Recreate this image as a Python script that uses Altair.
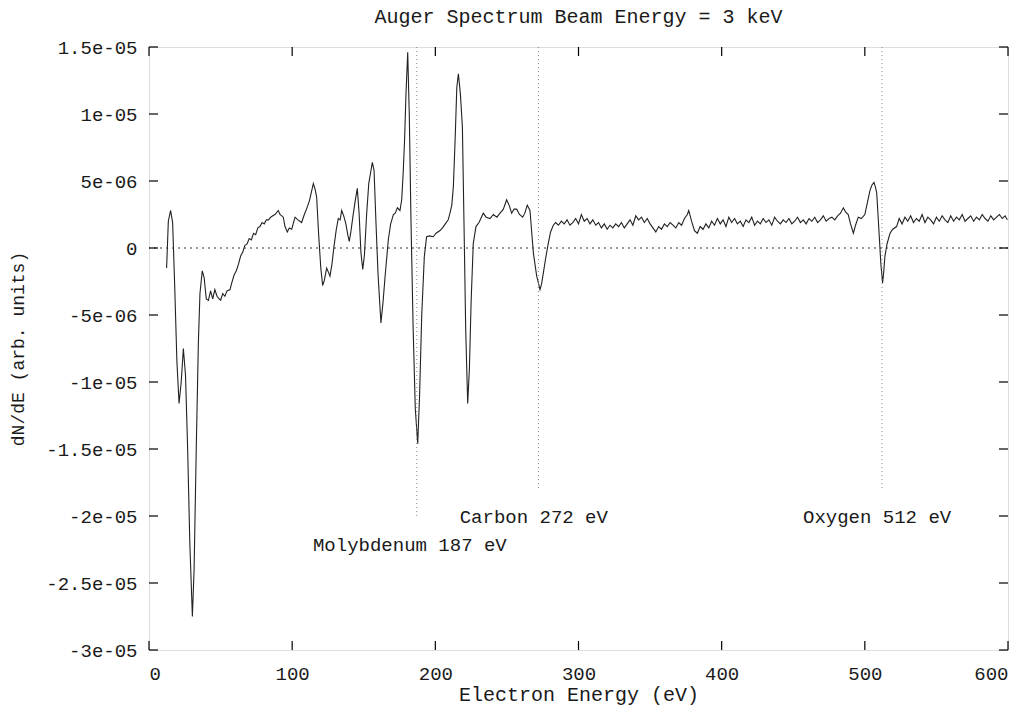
import altair as alt
import pandas as pd

# ---------------- data ----------------
energy = [
    12.3, 13.5, 15.1, 16.5, 18.0, 19.5, 21.0, 22.5, 24.0, 25.5, 27.0, 28.5, 30.3, 31.5, 33.0, 34.5,
    35.6, 37.2, 38.5, 40.0, 41.5, 43.0, 44.5, 46.0, 47.5, 49.0, 50.0, 51.5, 53.0, 54.5, 56.6, 57.8,
    59.5, 61.0, 62.5, 64.0, 65.5, 67.0, 68.5, 70.0, 71.5, 73.0, 74.5, 76.0, 77.5, 79.0, 80.5, 82.0,
    83.5, 85.0, 86.5, 88.0, 90.3, 91.5, 93.8, 95.0, 96.6, 98.0, 99.7, 102.0, 104.0, 106.6, 108.5,
    110.0, 112.0, 113.5, 114.8, 116.0, 117.1, 118.5, 120.0, 121.3, 122.5, 124.1, 125.3, 126.4,
    127.8, 129.2, 130.7, 132.2, 133.5, 134.6, 136.0, 137.5, 139.0, 139.9, 141.0, 142.5, 144.0,
    145.5, 146.8, 148.0, 149.3, 150.5, 152.0, 153.5, 156.0, 157.2, 158.5, 160.0, 162.0, 163.5,
    165.0, 167.2, 168.8, 170.7, 172.0, 173.5, 175.3, 176.5, 177.5, 178.5, 179.5, 180.7, 181.8,
    183.0, 184.5, 186.0, 187.7, 189.0, 190.5, 192.3, 193.9, 196.0, 198.6, 200.5, 203.3, 205.0,
    207.2, 209.0, 210.2, 211.5, 212.6, 213.8, 215.0, 216.1, 217.5, 218.9, 220.0, 221.2, 222.6,
    223.8, 225.0, 226.5, 228.4, 230.5, 233.5, 235.5, 238.2, 240.5, 243.0, 245.2, 247.5, 249.8,
    251.5, 253.3, 255.0, 256.8, 258.8, 261.0, 262.5, 264.2, 266.1, 267.3, 268.5, 270.0, 270.8,
    272.0, 273.1, 274.2, 275.4, 277.0, 278.9, 280.5, 282.4,
    284, 286, 288, 290, 292, 294, 296, 298, 300, 302, 304, 306, 308, 310, 312, 314, 316, 318, 320,
    322, 324, 326, 328, 330, 332, 334, 336, 338, 340, 342, 344, 346, 348, 350, 352, 354, 356, 358,
    360, 362, 364, 366, 368, 370, 372, 374, 376, 377, 379, 381, 383, 385, 387, 389, 391, 393, 395,
    397, 399, 401, 403, 405, 407, 409, 411, 413, 415, 417, 419, 421, 423, 425, 427, 429, 431, 433,
    435, 437, 439, 441, 443, 445, 447, 449, 451, 453, 455, 457, 459, 461, 463, 465, 467, 469, 471,
    473, 475, 477, 479, 481, 483, 485, 486.5, 488.4, 490, 492, 493.5, 495.4, 497.5, 500, 502,
    503.6, 505, 506.4, 507.5, 508.3, 509.2, 510.1, 511.2, 512.4, 513.2, 514, 515.5, 517.6, 519.5,
    522.2, 524, 526, 528, 530, 532, 534, 536, 538, 540, 542, 544, 546, 548, 550, 552, 554, 556,
    558, 560, 562, 564, 566, 568, 570, 572, 574, 576, 578, 580, 582, 584, 586, 588, 590, 592, 594,
    596, 598, 599.5,
]

# dN/dE in units of 1e-6
dnde_e6 = [
    -1.5, 2.0, 2.8, 1.9, -3.0, -8.5, -11.6, -10.0, -7.5, -9.5, -15.0, -22.0, -27.5, -24.0, -15.0, -7.0,
    -3.4, -1.7, -2.2, -3.8, -3.9, -3.2, -3.8, -3.1, -3.6, -3.8, -3.9, -3.4, -3.6, -3.2, -3.1, -2.6,
    -2.0, -1.7, -1.2, -0.6, -0.3, 0.2, 0.3, 0.7, 0.6, 1.1, 1.0, 1.5, 1.6, 1.9, 1.8, 2.1,
    2.1, 2.3, 2.4, 2.5, 2.8, 2.5, 2.3, 1.6, 1.2, 1.5, 1.4, 2.3, 2.1, 1.9, 2.5,
    2.9, 3.5, 4.2, 4.8, 4.4, 3.8, 1.0, -1.5, -2.8, -2.4, -1.5, -1.8, -2.1,
    -1.2, 0.1, 1.3, 2.2, 2.1, 2.8, 2.4, 1.8, 0.9, 0.5, 1.2, 2.4, 3.5,
    4.45, 2.5, -0.3, -1.6, -0.5, 2.5, 4.8, 6.4, 5.8, 2.0, -2.0, -5.6, -4.0,
    -2.0, 0.65, 1.8, 2.5, 2.6, 3.0, 2.8, 3.6, 5.5, 8.0, 11.5, 14.6, 10.0,
    2.0, -6.0, -12.0, -14.6, -11.0, -5.0, -0.65, 0.84, 0.9, 0.84, 1.1, 1.3, 1.5,
    1.84, 2.1, 2.6, 3.2, 4.6, 8.0, 12.0, 13.0, 11.5, 9.05, 2.0, -6.0, -11.6,
    -9.0, -4.0, 0.35, 1.6, 1.9, 2.6, 2.3, 2.2, 2.5, 2.3, 2.6, 2.9, 3.6,
    3.2, 2.6, 2.9, 2.9, 2.5, 2.3, 2.6, 3.2, 2.8, 1.2, -0.4, -1.5, -2.1,
    -2.6, -3.1, -2.7, -1.9, -0.8, 0.35, 1.2, 1.7,
    1.9, 1.7, 2.0, 1.8, 2.1, 1.7, 1.9, 2.2, 1.8, 2.5, 2.0, 2.2, 1.8, 2.1, 1.7, 1.9, 1.5, 1.8, 1.4,
    1.7, 1.5, 1.8, 1.6, 1.9, 1.5, 1.8, 2.1, 1.7, 2.4, 2.1, 2.3, 1.9, 2.2, 1.8, 1.5, 1.2, 1.6, 1.4,
    1.8, 1.6, 1.9, 1.7, 1.5, 1.9, 1.7, 2.2, 2.5, 2.8, 2.0, 1.3, 1.1, 1.6, 1.4, 1.8, 1.5, 2.0, 1.7,
    2.2, 1.8, 2.1, 1.6, 2.3, 1.9, 2.2, 1.8, 2.0, 1.6, 2.1, 1.9, 2.3, 1.7, 2.0, 1.8, 2.2, 1.9, 2.1,
    1.7, 2.3, 2.0, 1.8, 2.1, 1.9, 2.2, 1.8, 2.0, 2.3, 1.9, 2.1, 1.8, 2.2, 2.0, 2.3, 1.9, 2.1, 2.4,
    2.0, 2.2, 2.3, 2.1, 2.4, 2.6, 3.0, 2.7, 2.5, 1.8, 1.1, 1.7, 2.3, 2.2, 2.5, 3.5,
    4.3, 4.7, 4.9, 4.5, 4.1, 2.5, 0.84, -1.2, -2.6, -1.8, -0.65, 0.3, 1.1, 1.4,
    1.6, 2.2, 1.8, 2.3, 2.0, 2.4, 1.9, 2.2, 2.0, 2.5, 1.9, 2.3, 2.1, 1.8, 2.3, 2.0, 2.4, 2.1,
    1.9, 2.4, 2.0, 2.3, 2.1, 2.5, 2.0, 2.2, 2.4, 2.0, 2.3, 2.1, 2.5, 2.2, 2.0, 2.4, 2.1, 2.3, 2.5,
    2.2, 2.4, 2.1,
]

# Marker lines and their labels
marker_energy = [187, 272, 512]
marker_top = [1.5e-05, 1.5e-05, 1.5e-05]
marker_bottom = [-2.0e-05, -1.8e-05, -1.8e-05]
label_text = ["Molybdenum 187 eV", "Carbon 272 eV", "Oxygen 512 eV"]
label_x = [114.5, 217.0, 456.8]
label_y = [-2.22e-05, -2.01e-05, -2.01e-05]

x_ticks = [0, 100, 200, 300, 400, 500, 600]
y_ticks = [-3e-05, -2.5e-05, -2e-05, -1.5e-05, -1e-05, -5e-06, 0, 5e-06, 1e-05, 1.5e-05]
y_tick_labels = ["-3e-05", "-2.5e-05", "-2e-05", "-1.5e-05", "-1e-05", "-5e-06", "0",
                 "5e-06", "1e-05", "1.5e-05"]

# ---------------- build ----------------
W, H = 859, 603
FONT = "Liberation Mono"
INK = "#1a1a1a"

spec = pd.DataFrame({"E": energy, "V": [v * 1e-6 for v in dnde_e6]})
markers = pd.DataFrame({"E": marker_energy, "top": marker_top, "bot": marker_bottom})
labels = pd.DataFrame({"E": label_x, "V": label_y, "t": label_text})
xt = pd.DataFrame({"E": x_ticks})
yt = pd.DataFrame({"V": y_ticks})

expr = "''"
for v, s in zip(y_ticks, y_tick_labels):
    expr = f"(abs(datum.value - ({v})) < 1e-9 ? '{s}' : {expr})"

xscale = alt.Scale(domain=[0, 600], nice=False, zero=False)
yscale = alt.Scale(domain=[-3e-05, 1.5e-05], nice=False, zero=False)

xaxis = alt.Axis(values=x_ticks, format="d", ticks=False, tickSize=0, domain=False, grid=False,
                 labelFont=FONT, labelFontSize=19, labelColor=INK, labelPadding=14,
                 title="Electron Energy (eV)", titleFont=FONT, titleFontSize=20,
                 titleFontWeight="normal", titleColor=INK, titlePadding=1)
yaxis = alt.Axis(values=y_ticks, labelExpr=expr, ticks=False, tickSize=0, domain=False, grid=False,
                 labelFont=FONT, labelFontSize=19, labelColor=INK, labelPadding=12,
                 title="dN/dE (arb. units)", titleFont=FONT, titleFontSize=18,
                 titleFontWeight="normal", titleColor=INK, titlePadding=18)

x = alt.X("E:Q", scale=xscale, axis=xaxis)
y = alt.Y("V:Q", scale=yscale, axis=yaxis)

zero = alt.Chart(pd.DataFrame({"V": [0.0]})).mark_rule(
    color="#333333", strokeWidth=1, strokeDash=[2, 4]
).encode(y=alt.Y("V:Q", scale=yscale))

mk = alt.Chart(markers).mark_rule(color="#888888", strokeWidth=1, strokeDash=[1, 3]).encode(
    x=alt.X("E:Q", scale=xscale), y=alt.Y("top:Q", scale=yscale), y2="bot:Q"
)

line = alt.Chart(spec).mark_line(color="#222222", strokeWidth=1.1).encode(x=x, y=y)

txt = alt.Chart(labels).mark_text(
    align="left", baseline="middle", font=FONT, fontSize=19, color=INK
).encode(x=alt.X("E:Q", scale=xscale), y=alt.Y("V:Q", scale=yscale), text="t:N")

TL = 9
xt_top = alt.Chart(xt).mark_rule(color="black", strokeWidth=1.2).encode(
    x=alt.X("E:Q", scale=xscale), y=alt.value(0), y2=alt.value(TL))
xt_bot = alt.Chart(xt).mark_rule(color="black", strokeWidth=1.2).encode(
    x=alt.X("E:Q", scale=xscale), y=alt.value(H), y2=alt.value(H - TL))
yt_left = alt.Chart(yt).mark_rule(color="black", strokeWidth=1.2).encode(
    y=alt.Y("V:Q", scale=yscale), x=alt.value(0), x2=alt.value(TL))
yt_right = alt.Chart(yt).mark_rule(color="black", strokeWidth=1.2).encode(
    y=alt.Y("V:Q", scale=yscale), x=alt.value(W), x2=alt.value(W - TL))

chart = alt.layer(line, zero, mk, txt, xt_top, xt_bot, yt_left, yt_right).properties(
    width=W, height=H,
    title=alt.TitleParams("Auger Spectrum Beam Energy = 3 keV", font=FONT, fontSize=20,
                          fontWeight="normal", color=INK, anchor="middle", offset=11),
    autosize=alt.AutoSizeParams(type="none"),
    padding={"left": 149, "top": 47, "right": 26, "bottom": 67},
).configure_view(stroke="black", strokeWidth=1.5).configure(background="white")

chart.save("out.html", embed_options={"renderer": "svg", "actions": False})
